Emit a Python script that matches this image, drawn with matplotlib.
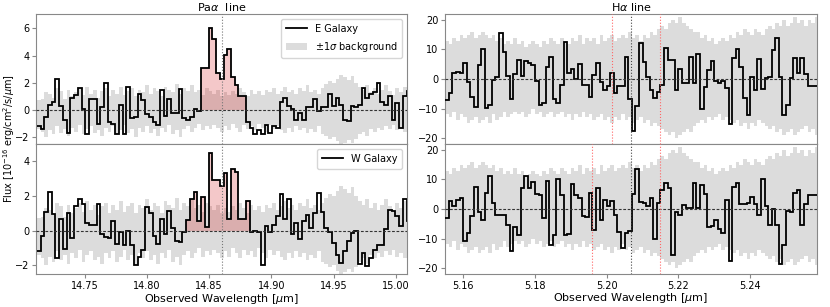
import numpy as np
import matplotlib
matplotlib.use('Agg')
import matplotlib.pyplot as plt

# wavelength sampling (bin edges start + width), micron
pa_start, pa_step = 14.7116, 0.003
ha_start, ha_step = 5.15498, 0.001

# Pa alpha, E galaxy flux (1e-16 erg/cm2/s/um)
pa_east = [-1.2, -1.4, -0.55, 0.35, 0.6, 2.25, 0.3, -0.7, -1.7, 0.9,
           1.1, 1.6, 0.1, -1.8, 0.8, 0.8, -1.0, 0.25, 1.95, -0.85,
           -1.0, -1.8, 0.4, -1.8, 1.7, -0.6, -0.5, 1.2, 0.7, -0.3,
           -0.5, -0.85, -1.1, 1.5, -0.45, 0.8, -0.25, -0.25, 1.55, -0.6,
           -0.7, -0.5, 0.1, -0.1, 3.1, 3.1, 6.0, 5.25, 2.75, 2.3,
           4.05, 4.5, 2.4, 1.8, 1.0, 1.0, -0.9, -1.3, -1.8, -1.5,
           -1.75, -1.1, -1.7, -1.2, -1.35, 0.6, 0.9, 0.3, 0.1, -0.7,
           -0.2, -0.75, 0.2, 0.25, 0.8, -0.1, 0.2, 0.2, 1.2, 0.3,
           0.9, 0.4, -0.7, -0.8, 0.3, 0.2, 0.35, 1.6, 0.9, 1.2,
           1.3, 1.95, 0.6, 0.4, 1.0, -0.7, 0.5, -1.3, 1.0, 1.4]
# Pa alpha, W galaxy flux
pa_west = [-1.2, -0.3, 1.05, 2.25, 0.95, -1.6, 0.7, -1.05, 1.0, -0.4,
           1.45, 1.8, 1.55, 0.45, 0.3, 0.35, 1.55, -0.2, -0.35, -0.4,
           0.55, -0.75, -0.1, -0.8, 0.0, -0.8, -2.0, -1.5, -1.1, 1.35,
           1.0, -0.3, -0.75, 0.7, -0.2, 1.15, 0.15, -0.6, -0.65, -0.1,
           0.6, 1.8, 2.25, 0.55, 1.95, 0.2, 4.5, 2.95, 2.95, 2.55,
           3.35, 0.65, 3.55, 3.4, 0.65, 0.65, 1.7, -0.05, 0.0, -0.1,
           -2.0, 0.25, -0.1, 0.35, 0.85, 2.1, 0.65, 1.8, -0.2, 0.45,
           -0.5, 0.55, 0.9, 0.15, 1.0, 2.15, 1.1, 0.15, -0.05, -0.7,
           -1.4, -1.85, -1.2, -0.6, -0.15, 0.0, -1.9, -1.3, -2.05, -1.6,
           -1.1, -0.8, -0.85, 0.1, 1.2, 1.15, 0.85, 0.25, 1.85, 0.55]
# Pa alpha background band (upper / lower edge)
pa_bg_hi = [0.75, 0.8, 1.3, 1.2, 0.9, 1.6, 1.4, 0.8, 1.5, 1.0,
            1.3, 1.6, 1.1, 1.7, 1.2, 1.5, 0.9, 1.4, 1.6, 1.0,
            1.5, 1.2, 1.7, 1.1, 1.4, 1.6, 1.0, 1.5, 1.3, 1.8,
            1.2, 1.6, 1.4, 1.0, 1.7, 1.5, 1.3, 1.9, 1.2, 1.6,
            1.4, 1.8, 1.3, 1.5, 1.1, 1.6, 1.4, 1.2, 1.5, 1.0,
            1.3, 1.1, 1.4, 1.2, 1.6, 1.3, 1.0, 1.5, 1.2, 1.4,
            1.1, 1.5, 1.3, 1.6, 1.2, 1.4, 1.7, 1.3, 1.5, 1.2,
            1.6, 1.4, 1.8, 1.3, 1.5, 1.2, 1.6, 1.9, 2.1, 2.0,
            2.3, 2.6, 2.4, 2.2, 2.5, 2.0, 1.7, 1.5, 1.8, 1.3,
            1.6, 1.2, 1.5, 1.8, 1.4, 1.1, 1.6, 1.3, 1.7, 1.5]
pa_bg_lo = [-1.4, -1.6, -2.0, -1.5, -1.8, -1.2, -1.7, -1.4, -1.9, -1.3,
            -1.6, -1.1, -1.8, -1.4, -1.2, -1.7, -1.5, -1.9, -1.3, -1.6,
            -1.2, -1.8, -1.5, -1.1, -1.7, -1.4, -2.0, -1.3, -1.6, -1.2,
            -1.7, -1.4, -1.9, -1.3, -1.6, -1.1, -1.8, -1.5, -2.0, -1.4,
            -1.2, -1.6, -1.3, -1.0, -1.5, -1.2, -1.4, -1.1, -1.3, -1.6,
            -1.2, -1.5, -1.0, -1.3, -1.6, -1.1, -1.4, -1.2, -1.5, -1.0,
            -1.3, -1.6, -1.1, -1.4, -1.2, -1.5, -1.7, -1.3, -1.6, -1.2,
            -1.5, -1.3, -1.7, -1.4, -1.6, -1.2, -1.8, -1.9, -2.1, -2.0,
            -2.3, -2.5, -2.4, -2.2, -2.4, -2.1, -1.8, -1.6, -1.9, -1.4,
            -1.6, -1.3, -1.5, -1.2, -1.4, -1.1, -1.5, -1.3, -1.6, -1.2]

# H alpha, E galaxy flux
ha_east = [-7.1, -4.6, 2.2, 2.3, 1.9, 5.5, -0.9, -6.0, -9.5, 4.7,
           10.0, -9.9, -8.8, -0.3, 0.8, 15.6, 9.2, 1.0, -6.9, 1.7,
           6.4, 1.0, 6.1, 5.3, 4.8, -0.7, -8.8, -8.2, 3.9, 7.5,
           -6.9, -8.2, -2.0, 12.4, 2.2, 3.4, -0.1, 5.1, -2.0, -2.0,
           -6.0, 1.3, 5.3, -0.9, -3.7, -2.4, 2.2, -4.6, -2.4, -2.4,
           7.3, -6.9, -17.5, -9.3, 12.2, 5.6, 0.8, -3.7, -6.5, -4.3,
           -2.0, 10.6, 6.6, 6.4, -3.7, 3.3, -1.2, -1.5, 7.5, -1.5,
           8.3, -10.2, -2.8, 3.0, 6.1, -0.6, -1.5, -0.6, -3.1, -15.2,
           7.0, 10.3, 4.2, -6.5, -12.1, 0.8, -3.7, 6.7, -3.4, 0.2,
           0.6, 9.8, 13.9, 0.8, -12.1, -8.8, 0.2, 7.2, 1.9, 7.0,
           1.7, -2.3, -2.3, -2.3]
# H alpha, W galaxy flux
ha_west = [-3.2, 2.7, 1.0, 3.1, 3.7, -11.0, -8.0, -2.4, 7.3, -0.9,
           -3.8, 5.4, 11.3, 1.9, -2.1, -2.1, -2.1, -5.5, -14.1, -6.1,
           -8.7, 7.1, 11.1, 7.1, 9.1, 5.0, 4.6, -3.2, 9.4, -12.1,
           -8.9, 10.2, 4.8, -8.7, -8.3, 8.5, 4.8, 3.7, -2.3, -2.6,
           5.4, -7.2, 7.1, -3.8, 3.1, 1.1, 2.7, -2.1, -7.8, -13.3,
           -8.0, -7.5, 5.0, 13.7, 2.5, 1.9, 1.1, 3.7, -10.1, 1.9,
           6.5, 8.8, 7.1, -15.5, -0.9, -2.1, 1.4, 0.2, 0.2, 8.8,
           0.2, 8.2, 5.0, -6.1, -5.7, -3.8, -6.9, -8.0, 3.1, -17.5,
           7.3, 8.8, 1.6, 1.6, 1.9, 4.2, 1.6, -2.1, 10.2, 1.1,
           -5.5, 0.0, -5.3, -18.6, -12.3, -0.7, -0.9, 5.4, 6.5, -5.5,
           1.6, 4.8, 4.8, 4.8]
# H alpha background band
ha_bg_hi = [13, 12, 14, 13, 15, 14, 15, 16, 14, 15,
            16, 15, 14, 15, 13, 14, 12, 13, 12, 14,
            12, 13, 11, 12, 13, 12, 11, 13, 12, 14,
            13, 12, 14, 13, 12, 14, 13, 15, 12, 14,
            13, 14, 12, 15, 13, 14, 15, 13, 14, 15,
            14, 16, 14, 15, 13, 15, 14, 16, 15, 17,
            18, 17, 19, 20, 19, 21, 19, 18, 17, 16,
            16, 14, 15, 13, 14, 12, 13, 14, 13, 15,
            14, 16, 15, 17, 16, 15, 17, 16, 15, 17,
            18, 17, 19, 18, 20, 18, 19, 21, 19, 20,
            18, 20, 19, 21]
ha_bg_lo = [-12, -13, -11, -14, -12, -13, -15, -14, -13, -15,
            -14, -13, -15, -12, -14, -13, -11, -13, -12, -11,
            -12, -11, -13, -12, -10, -12, -11, -13, -12, -11,
            -13, -12, -11, -13, -12, -14, -12, -13, -11, -13,
            -12, -14, -13, -12, -14, -13, -15, -13, -14, -12,
            -14, -13, -15, -14, -13, -15, -14, -16, -15, -16,
            -17, -18, -19, -18, -20, -19, -18, -17, -18, -16,
            -15, -14, -15, -13, -14, -13, -12, -14, -13, -14,
            -15, -14, -16, -15, -17, -15, -16, -14, -15, -16,
            -17, -16, -18, -17, -19, -18, -17, -19, -18, -17,
            -16, -18, -17, -19]

# bins counted as line emission (first, last+1)
east_line = (44, 56)
west_line = (40, 57)

pa_center = 14.86
ha_center = 5.2068
ha_red_top = [5.2014, 5.2149]
ha_red_bot = [5.1960, 5.2149]

pa_edges = pa_start + pa_step * np.arange(len(pa_east) + 1)
ha_edges = ha_start + ha_step * np.arange(len(ha_east) + 1)

fig = plt.figure(figsize=(8.3, 3.07), dpi=100)
x_l, x_r, w = 0.0434, 0.5361, 0.447
y_t, y_b, h = 0.5309, 0.1075, 0.4235
ax_pe = fig.add_axes([x_l, y_t, w, h])
ax_pw = fig.add_axes([x_l, y_b, w, h], sharex=ax_pe)
ax_he = fig.add_axes([x_r, y_t, w + 0.0012, h])
ax_hw = fig.add_axes([x_r, y_b, w + 0.0012, h], sharex=ax_he)

grey = '#dcdcdc'
pink = 'tab:red'


def draw(ax, edges, flux, lo, hi, label, line=None):
    ax.stairs(hi, edges, baseline=lo, fill=True, color=grey, lw=0,
              label=r'$\pm1\sigma$ background', zorder=1)
    if line is not None:
        a, b = line
        ax.stairs(flux[a:b], edges[a:b + 1], baseline=0, fill=True,
                  color=pink, alpha=0.25, lw=0, zorder=2)
    ax.stairs(flux, edges, baseline=None, color='black', lw=1.3,
              label=label, zorder=3)
    ax.axhline(0, color='#333333', lw=0.8, ls=(0, (2.5, 1.5)), zorder=4)


draw(ax_pe, pa_edges, np.array(pa_east), pa_bg_lo, pa_bg_hi, 'E Galaxy', east_line)
draw(ax_pw, pa_edges, np.array(pa_west), pa_bg_lo, pa_bg_hi, 'W Galaxy', west_line)
draw(ax_he, ha_edges, np.array(ha_east), ha_bg_lo, ha_bg_hi, 'E Galaxy')
draw(ax_hw, ha_edges, np.array(ha_west), ha_bg_lo, ha_bg_hi, 'W Galaxy')

for ax in (ax_pe, ax_pw):
    ax.axvline(pa_center, color='#777777', lw=0.8, ls=':', zorder=5)
for ax, reds in ((ax_he, ha_red_top), (ax_hw, ha_red_bot)):
    ax.axvline(ha_center, color='#444444', lw=0.8, ls=':', zorder=5)
    for r in reds:
        ax.axvline(r, color='#ff6666', lw=0.8, ls=':', zorder=5)

ax_pe.set_xlim(14.711, 15.009)
ax_pe.set_ylim(-2.5, 7.05)
ax_pw.set_ylim(-2.5, 5.0)
ax_pe.set_yticks([-2, 0, 2, 4, 6])
ax_pw.set_yticks([-2, 0, 2, 4])
ax_pw.set_xticks([14.75, 14.80, 14.85, 14.90, 14.95, 15.00])
ax_he.set_xlim(5.1549, 5.2586)
ax_he.set_ylim(-22, 22)
ax_hw.set_ylim(-22, 22)
ax_he.set_yticks([-20, -10, 0, 10, 20])
ax_hw.set_yticks([-20, -10, 0, 10, 20])
ax_hw.set_xticks([5.16, 5.18, 5.20, 5.22, 5.24])

for ax in (ax_pe, ax_pw, ax_he, ax_hw):
    for s in ax.spines.values():
        s.set_color('#888888')
    ax.tick_params(labelsize=7.0, length=3, pad=1.8, color='#888888', width=0.8)
for ax in (ax_pe, ax_he):
    ax.tick_params(labelbottom=False)

ax_pe.set_title(r'Pa$\alpha$  line', fontsize=8, pad=2)
ax_he.set_title(r'H$\alpha$ line', fontsize=8, pad=2)
ax_pw.set_xlabel(r'Observed Wavelength [$\mu$m]', fontsize=8, labelpad=1)
ax_hw.set_xlabel(r'Observed Wavelength [$\mu$m]', fontsize=8, labelpad=0)
fig.text(0.001, 0.55, r'Flux [$10^{-16}$ erg/cm$^2$/s/$\mu$m]', fontsize=7.0,
         rotation=90, va='center', ha='left')

h1, l1 = ax_pe.get_legend_handles_labels()
ax_pe.legend([h1[1], h1[0]], [l1[1], l1[0]], loc='upper right', fontsize=7,
             handlelength=2.2, borderpad=0.5, labelspacing=0.6)
h2, l2 = ax_pw.get_legend_handles_labels()
ax_pw.legend([h2[1]], [l2[1]], loc='upper right', fontsize=7,
             handlelength=2.2, borderpad=0.5)

fig.savefig('out.png', dpi=100)
